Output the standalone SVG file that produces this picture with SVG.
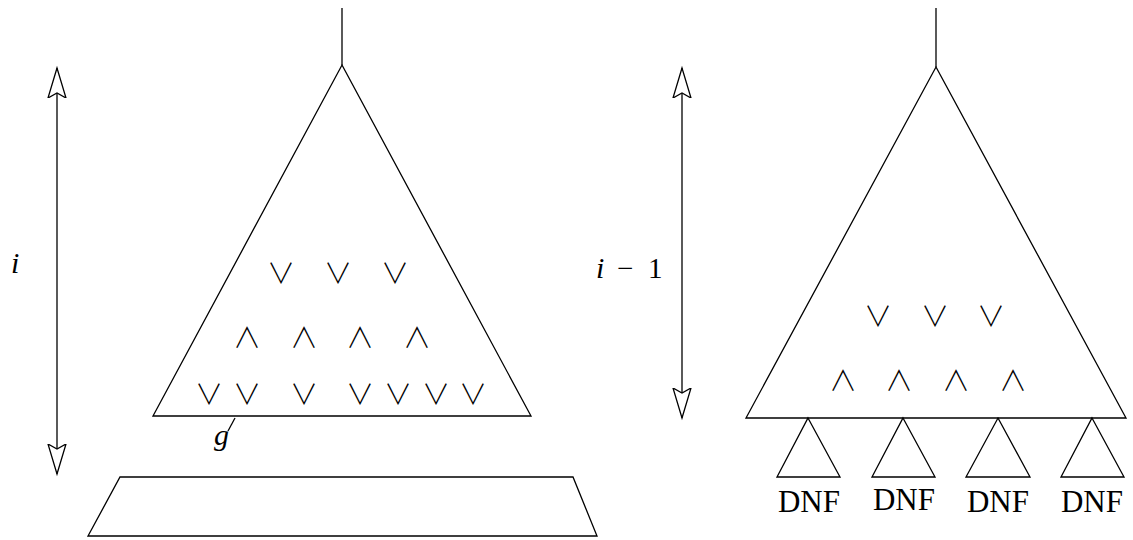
<svg xmlns="http://www.w3.org/2000/svg" width="1133" height="540" viewBox="0 0 1133 540">
<style>
.ln{fill:none;stroke:#000;stroke-width:1.3;stroke-linejoin:miter}
.op{font-family:"Noto Sans CJK JP","DejaVu Sans",sans-serif;font-size:28px;font-weight:300;text-anchor:middle;fill:#000}
.lbl{font-family:"Liberation Serif",serif;font-size:31px;text-anchor:middle;fill:#000}
.it{font-family:"Liberation Serif",serif;font-style:italic;font-size:30px;fill:#000}
.rm{font-family:"Liberation Serif",serif;font-size:29px;fill:#000}
</style>
<defs>
<marker id="ah" markerUnits="userSpaceOnUse" markerWidth="40" markerHeight="24" refX="30" refY="10" orient="auto-start-reverse" viewBox="0 0 40 24">
<path d="M30 10 L0 1 L5 10 L0 19 Z" fill="#fff" stroke="#000" stroke-width="1.3" stroke-linejoin="miter"/>
</marker>
</defs>
<g id="connectors">
<line class="ln" x1="57" y1="68" x2="57" y2="474" marker-start="url(#ah)" marker-end="url(#ah)"/>
<line class="ln" x1="682" y1="68" x2="682" y2="418" marker-start="url(#ah)" marker-end="url(#ah)"/>
<line class="ln" x1="342" y1="8" x2="342" y2="65"/>
<line class="ln" x1="936" y1="8" x2="936" y2="67"/>
<line class="ln" x1="235" y1="418" x2="228" y2="431"/>
</g>
<g id="left-triangle">
<path class="ln" d="M342 65 L531 416 L153 416 Z"/>
<text class="op" x="281" y="284">∨</text>
<text class="op" x="338" y="284">∨</text>
<text class="op" x="395" y="284">∨</text>
<text class="op" x="247" y="348">∧</text>
<text class="op" x="304" y="348">∧</text>
<text class="op" x="360" y="348">∧</text>
<text class="op" x="417" y="348">∧</text>
<text class="op" x="209" y="405">∨</text>
<text class="op" x="247" y="405">∨</text>
<text class="op" x="304" y="405">∨</text>
<text class="op" x="360" y="405">∨</text>
<text class="op" x="398" y="405">∨</text>
<text class="op" x="436" y="405">∨</text>
<text class="op" x="473" y="405">∨</text>
</g>
<g id="label-g"><text class="it" x="214" y="445">g</text></g>
<g id="label-i"><text class="it" x="11" y="273">i</text></g>
<g id="trapezoid"><path class="ln" d="M120 477 L573 477 L597 536 L88 536 Z"/></g>
<g id="right-triangle">
<path class="ln" d="M936 67 L1126 418 L746 418 Z"/>
<text class="op" x="878" y="327">∨</text>
<text class="op" x="935" y="327">∨</text>
<text class="op" x="991" y="327">∨</text>
<text class="op" x="843" y="391">∧</text>
<text class="op" x="899" y="391">∧</text>
<text class="op" x="956" y="391">∧</text>
<text class="op" x="1013" y="391">∧</text>
</g>
<g id="label-i-1">
<text class="it" x="596" y="278">i</text>
<text class="rm" x="617" y="278">−</text>
<text class="rm" x="648" y="278">1</text>
</g>
<g id="dnf1"><path class="ln" d="M808 418 L840 477 L777 477 Z"/><text class="lbl" x="809" y="512">DNF</text></g>
<g id="dnf2"><path class="ln" d="M903 418 L935 477 L872 477 Z"/><text class="lbl" x="904" y="510">DNF</text></g>
<g id="dnf3"><path class="ln" d="M998 418 L1030 477 L966 477 Z"/><text class="lbl" x="998" y="512">DNF</text></g>
<g id="dnf4"><path class="ln" d="M1092 418 L1124 477 L1061 477 Z"/><text class="lbl" x="1092" y="512">DNF</text></g>
</svg>
